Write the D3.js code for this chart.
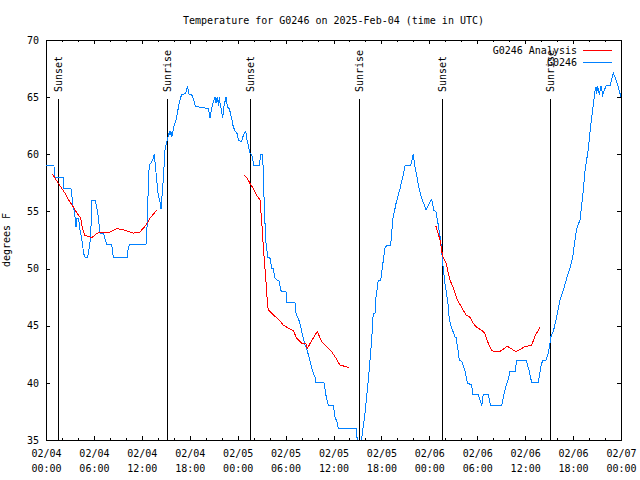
<!DOCTYPE html>
<html><head><meta charset="utf-8">
<script src="https://cdn.jsdelivr.net/npm/d3@7"></script>
<style>
body{margin:0;background:#fff;}
svg text{font-family:"DejaVu Sans Mono","Liberation Mono",monospace;font-size:10px;fill:#000;}
</style></head><body>
<svg id="c" width="640" height="480"></svg>
<script>
// ---- data (hours since 2025-02-04 00:00 UTC, degrees F) ----
const obsHours=[0.00,1.00,1.04,2.13,2.19,3.13,3.38,3.57,3.67,3.76,3.84,4.04,4.17,4.26,4.47,4.60,4.67,4.88,5.22,5.42,5.60,5.72,6.14,6.35,6.55,6.67,6.76,7.18,7.39,7.60,8.23,8.43,10.18,10.31,10.52,12.52,12.61,12.81,12.93,13.23,13.44,13.56,13.65,13.86,14.06,14.27,14.40,14.49,14.69,14.90,15.19,15.44,15.53,15.65,15.74,15.87,15.94,16.15,16.28,16.44,16.69,16.87,16.99,17.41,17.62,17.69,17.82,17.94,18.24,18.44,18.70,20.32,20.45,20.54,20.62,20.75,20.95,21.16,21.29,21.37,21.50,21.58,21.70,21.79,21.88,22.13,22.20,22.29,22.41,22.54,22.63,22.83,22.95,23.25,23.45,23.70,23.95,24.08,24.51,24.63,24.83,25.01,25.13,25.42,25.54,25.76,26.05,26.71,26.88,27.13,27.21,27.34,27.51,27.76,28.05,28.26,28.46,28.68,28.89,29.21,29.39,29.51,30.05,30.14,31.18,31.30,31.72,32.02,32.22,32.43,32.64,32.97,33.27,33.40,33.68,33.81,34.81,35.06,35.35,35.98,36.19,36.48,36.60,38.82,38.98,39.13,39.44,39.53,39.94,40.36,40.78,40.98,41.20,41.32,41.61,41.91,42.24,42.45,42.66,43.16,43.41,43.83,44.33,44.67,44.95,45.67,45.99,46.21,46.49,46.74,47.04,47.46,47.58,48.00,48.30,48.58,48.83,49.12,49.42,49.67,49.96,50.38,50.50,50.80,51.22,51.34,51.63,51.75,52.05,52.47,52.76,53.31,53.43,54.13,54.56,54.76,55.38,55.68,57.06,57.35,57.60,57.89,58.10,58.73,58.94,60.11,60.52,60.82,61.65,61.95,62.20,62.61,62.90,63.11,63.20,63.53,63.95,64.36,64.78,65.20,65.61,65.95,66.24,66.45,66.87,67.20,67.49,67.91,68.21,68.46,68.75,68.87,68.96,69.08,69.28,69.50,69.71,70.12,70.62,71.04,71.47,72.00];
const obsTemps=[59,59,58,58,57,57,55.5,55,54.2,53.6,54.4,54.4,54,53.4,52.6,52.1,51.4,51,51,51.9,52.8,56,56,55.4,54.5,53.7,53.1,53.1,52.6,52.1,52.1,51,51,51.9,52.1,52.1,52.8,57.1,59.1,59.3,59.7,60,59.3,57.8,56.4,55.9,55.2,56,57.8,60.4,61.25,62,61.7,62,61.5,61.8,62.3,62.7,63,63.6,64.5,65,65.2,65.3,65.6,66,65.6,65.2,65.2,64.9,64.2,64,63.6,63.15,63.6,64,64.6,65,64.5,64.9,65,64.2,65,64.5,64.2,63.15,63.7,64.2,64.6,65,64.5,64,64,63.15,62.4,62,61.8,61.25,61.1,61.5,61.8,62,61.4,60.5,60.1,60,59,59,60,60,58.3,55.4,52.5,51,50.9,50,50,49.15,49,48.9,48.1,48,48,47,47,46.1,45.4,44.5,43.9,43.3,43,42.15,41.3,41,40.5,40,40,38.9,38,38,37,36.5,36,36,35,34,34,35.15,37.3,40.25,43.75,46.1,46.1,47.5,49,49,50.75,51.8,52,52,54.25,55.7,57,58,59,59,60,58.9,57.9,56.9,56.15,55.4,55.1,55.7,56.06,55.1,55,53.8,52.5,50.5,48.7,46.7,45.5,44.8,44,44,42.7,42,41.9,41,40,39.8,39,39,38,39,39,38,38,39,39.7,40.3,41,41,42,42,41,40,40,41.4,42,42,42.6,43.5,44,44.5,45.8,47.25,48.1,49.15,50,51,52.5,53.5,54.25,56.3,58.5,60.5,62.56,63.9,65.6,65.9,65.3,66,65.2,66,65.2,66,66,67.1,66.35,65];
const anaHours=[0.79,1.54,2.38,2.79,3.42,3.92,4.35,4.60,4.88,5.72,6.42,7.18,8.01,8.85,9.68,10.93,11.77,12.52,13.02,13.86,null,
 24.79,25.13,25.54,25.96,26.38,26.80,26.88,27.01,27.21,27.46,27.64,27.71,27.84,28.46,29.21,29.71,30.55,30.97,31.39,32.02,32.56,32.72,33.27,33.97,34.52,35.15,35.77,36.31,36.81,37.65,37.98,null,
 48.83,49.34,49.67,50.09,50.59,51.00,51.50,52.05,52.59,53.09,53.51,53.93,54.56,54.97,55.38,55.81,56.76,57.76,58.85,59.98,60.82,61.23,61.86];
const anaTemps=[58.28,57.46,56.6,56.06,55.4,54.8,54.4,53.4,52.9,52.7,53.1,53.2,53.2,53.5,53.4,53.1,53.2,53.8,54.4,55.1,null,
 58.2,57.98,57.46,57,56.4,56,55.3,54.1,51.9,49.6,48.1,47,46.4,45.94,45.5,45.06,44.7,44.57,43.9,43.46,43.4,43,43.7,44.5,43.6,43.17,42.73,42.15,41.56,41.4,41.35,null,
 53.7,52.5,51.04,50.46,49,48.3,47.25,46.6,45.94,45.74,45.2,44.86,44.6,44.3,43.46,42.8,42.7,43.2,42.73,43.17,43.3,44.1,44.86];
const sunHours=[1.54,15.21,25.61,39.23,49.62,63.14];
const sunLabels=["Sunset","Sunrise","Sunset","Sunrise","Sunset","Sunrise"];
const yTicks=[35,40,45,50,55,60,65,70];
const seriesNames=["G0246 Analysis","G0246"];
const seriesColors=["#ff0000","#0080ff"];
const titleText="Temperature for G0246 on 2025-Feb-04 (time in UTC)";
const yLabelText="degrees F";

// ---- chart ----
const start=Date.UTC(2025,1,4);
const toDate=h=>new Date(start+h*3600e3);
const L=46,R=621,T=40,B=440;
const x=d3.scaleUtc().domain([toDate(0),toDate(72)]).range([L,R]);
const y=d3.scaleLinear().domain([35,70]).range([B,T]);
const svg=d3.select("#c");

svg.append("defs").append("clipPath").attr("id","clip")
  .append("rect").attr("x",L).attr("y",T).attr("width",R-L).attr("height",B-T);

const major=d3.utcHour.every(6).range(toDate(0),toDate(72.01));
const minor=d3.utcHour.every(2).range(toDate(0),toDate(72.01)).filter(d=>d.getUTCHours()%6!==0);

function styleAxis(g){g.select(".domain").remove();g.attr("font-family",null).attr("font-size",null);
  g.selectAll("line").attr("stroke","#000").attr("shape-rendering","crispEdges");}

const fmtD=d3.utcFormat("%m/%d"),fmtT=d3.utcFormat("%H:%M");
const gb=svg.append("g").attr("transform",`translate(0,${B})`)
  .call(d3.axisBottom(x).tickValues(major).tickSize(-4).tickFormat(""));
styleAxis(gb);
gb.selectAll(".tick").each(function(d){
  const t=d3.select(this).append("text").attr("text-anchor","middle").attr("fill","#000").attr("stroke","none");
  t.append("tspan").attr("x",0).attr("y",17).text(fmtD(d));
  t.append("tspan").attr("x",0).attr("y",32).text(fmtT(d));
});
styleAxis(svg.append("g").attr("transform",`translate(0,${B})`).call(d3.axisBottom(x).tickValues(minor).tickSize(-2).tickFormat("")));
styleAxis(svg.append("g").attr("transform",`translate(0,${T})`).call(d3.axisTop(x).tickValues(major).tickSize(-4).tickFormat("")));
styleAxis(svg.append("g").attr("transform",`translate(0,${T})`).call(d3.axisTop(x).tickValues(minor).tickSize(-2).tickFormat("")));
const gl=svg.append("g").attr("transform",`translate(${L},0)`)
  .call(d3.axisLeft(y).tickValues(yTicks).tickSize(-4).tickPadding(7).tickFormat(d3.format("d")));
styleAxis(gl);
styleAxis(svg.append("g").attr("transform",`translate(${R},0)`).call(d3.axisRight(y).tickValues(yTicks).tickSize(-4).tickFormat("")));

// frame
svg.append("rect").attr("x",L).attr("y",T).attr("width",R-L).attr("height",B-T)
  .attr("fill","none").attr("stroke","#000").attr("shape-rendering","crispEdges");

// sunrise/sunset markers
const lineTop=B-(B-T)*0.8525, labelY=B-(B-T)*0.87;
sunHours.forEach((h,i)=>{
  const xx=x(toDate(h));
  svg.append("line").attr("x1",xx).attr("x2",xx).attr("y1",lineTop).attr("y2",B)
    .attr("stroke","#000").attr("shape-rendering","crispEdges");
  svg.append("text").attr("transform",`translate(${xx},${labelY}) rotate(-90)`)
    .attr("dy","0.35em").text(sunLabels[i]);
});

// series
const obs=obsHours.map((h,i)=>({t:toDate(h),v:obsTemps[i]}));
const ana=anaHours.map((h,i)=>({t:h==null?null:toDate(h),v:anaTemps[i]}));
const line=d3.line().defined(d=>d.v!=null&&d.t!=null).x(d=>x(d.t)).y(d=>y(d.v));
const plot=svg.append("g").attr("clip-path","url(#clip)");
plot.append("path").datum(obs).attr("d",line).attr("fill","none").attr("stroke",seriesColors[1])
  .attr("stroke-width",1).attr("shape-rendering","crispEdges");
plot.append("path").datum(ana).attr("d",line).attr("fill","none").attr("stroke",seriesColors[0])
  .attr("stroke-width",1).attr("shape-rendering","crispEdges");

// legend
seriesNames.forEach((n,i)=>{
  const ly=50+i*12.7;
  svg.append("text").attr("x",577).attr("y",ly).attr("dy","0.35em").attr("text-anchor","end").text(n);
  svg.append("line").attr("x1",583).attr("x2",612).attr("y1",ly).attr("y2",ly)
    .attr("stroke",seriesColors[i]).attr("shape-rendering","crispEdges");
});

// title & y label
svg.append("text").attr("x",(L+R)/2).attr("y",24).attr("text-anchor","middle").text(titleText);
svg.append("text").attr("transform",`translate(10,${(T+B)/2}) rotate(-90)`).attr("text-anchor","middle").text(yLabelText);
</script></body></html>
